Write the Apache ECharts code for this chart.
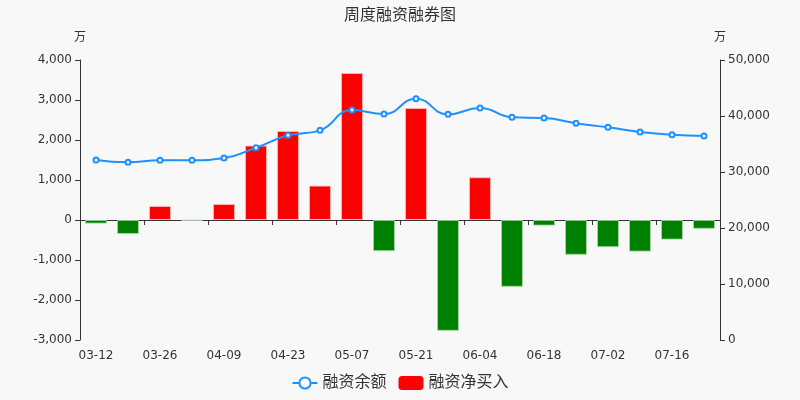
<!DOCTYPE html>
<html>
<head>
<meta charset="utf-8">
<script src="https://cdn.jsdelivr.net/npm/echarts@6/dist/echarts.min.js"></script>
<style>
  html, body { margin: 0; padding: 0; background: #f8f8f8; }
  #main { width: 800px; height: 400px; }
</style>
</head>
<body>
<div id="main"></div>
<script>
const dates = ["03-12", "03-19", "03-26", "04-02", "04-09", "04-16", "04-23", "04-30", "05-07", "05-14",
  "05-21", "05-28", "06-04", "06-11", "06-18", "06-25", "07-02", "07-09", "07-16", "07-23"];
// 融资净买入 (万)
const netBuy = [-90, -350, 350, -15, 400, 1860, 2225, 860, 3675, -780,
  2800, -2770, 1070, -1670, -140, -870, -680, -790, -490, -220];
// 融资余额 (万)
const balance = [32140, 31730, 32090, 32090, 32500, 34340, 36550, 37440, 41070, 40360,
  43090, 40300, 41430, 39770, 39640, 38690, 37980, 37140, 36670, 36430];

const font = "'DejaVu Sans', 'Noto Sans CJK SC', sans-serif";
const textColor = "#333";

let myChart = echarts.init(document.getElementById("main"));
myChart.setOption({
  backgroundColor: "#f8f8f8",
  textStyle: { fontFamily: font },
  animation: false,
  title: {
    text: "周度融资融券图",
    left: "center",
    top: 3,
    textStyle: { fontSize: 16, fontWeight: "normal", color: textColor, fontFamily: font },
  },
  legend: {
    bottom: 4,
    itemGap: 12,
    itemWidth: 25,
    itemHeight: 14,
    textStyle: { fontSize: 16, color: textColor, fontFamily: font },
    data: [
      { name: "融资余额" },
      { name: "融资净买入", icon: "roundRect" },
    ],
  },
  grid: { left: 80, right: 80, top: 60, bottom: 60 },
  xAxis: [{
    type: "category",
    data: dates,
    position: "bottom",
    axisLine: { show: false, onZero: false },
    axisTick: { show: false },
    axisLabel: { color: textColor, fontSize: 12, interval: 1, margin: 10 },
  }, {
    type: "category",
    data: dates,
    position: "top",
    axisLine: { show: true, onZero: true, onZeroAxisIndex: 0, lineStyle: { color: textColor } },
    axisTick: { show: true, inside: true, interval: 1, length: 5, lineStyle: { color: textColor } },
    axisLabel: { show: false },
  }],
  yAxis: [{
    type: "value",
    name: "万",
    nameGap: 16,
    nameTextStyle: { color: textColor, fontSize: 12 },
    min: -3000,
    max: 4000,
    interval: 1000,
    position: "left",
    axisLine: { show: true, lineStyle: { color: textColor } },
    axisTick: { show: true },
    axisLabel: { color: textColor, fontSize: 12 },
    splitLine: { show: false },
  }, {
    type: "value",
    name: "万",
    nameGap: 16,
    nameTextStyle: { color: textColor, fontSize: 12 },
    min: 0,
    max: 50000,
    interval: 10000,
    position: "right",
    axisLine: { show: true, lineStyle: { color: textColor } },
    axisTick: { show: true },
    axisLabel: { color: textColor, fontSize: 12 },
    splitLine: { show: false },
  }],
  series: [{
    name: "融资余额",
    type: "line",
    yAxisIndex: 1,
    xAxisIndex: 0,
    data: balance,
    smooth: true,
    symbol: "emptyCircle",
    symbolSize: 5,
    z: 3,
    itemStyle: { color: "#1e90ff", borderWidth: 1 },
    lineStyle: { color: "#1e90ff", width: 2 },
  }, {
    name: "融资净买入",
    type: "bar",
    yAxisIndex: 0,
    xAxisIndex: 0,
    barWidth: 22,
    data: netBuy.map(v => ({
      value: v,
      itemStyle: {
        color: v >= 0 ? "#ff0000" : "#008000",
        borderColor: v >= 0 ? "rgba(255,190,190,0.8)" : "rgba(170,220,170,0.8)",
        borderWidth: 1,
      },
    })),
    itemStyle: { color: "#ff0000" },
    z: 2,
  }],
});
window.onresize = function() {
  myChart.resize();
};
</script>
</body>
</html>
